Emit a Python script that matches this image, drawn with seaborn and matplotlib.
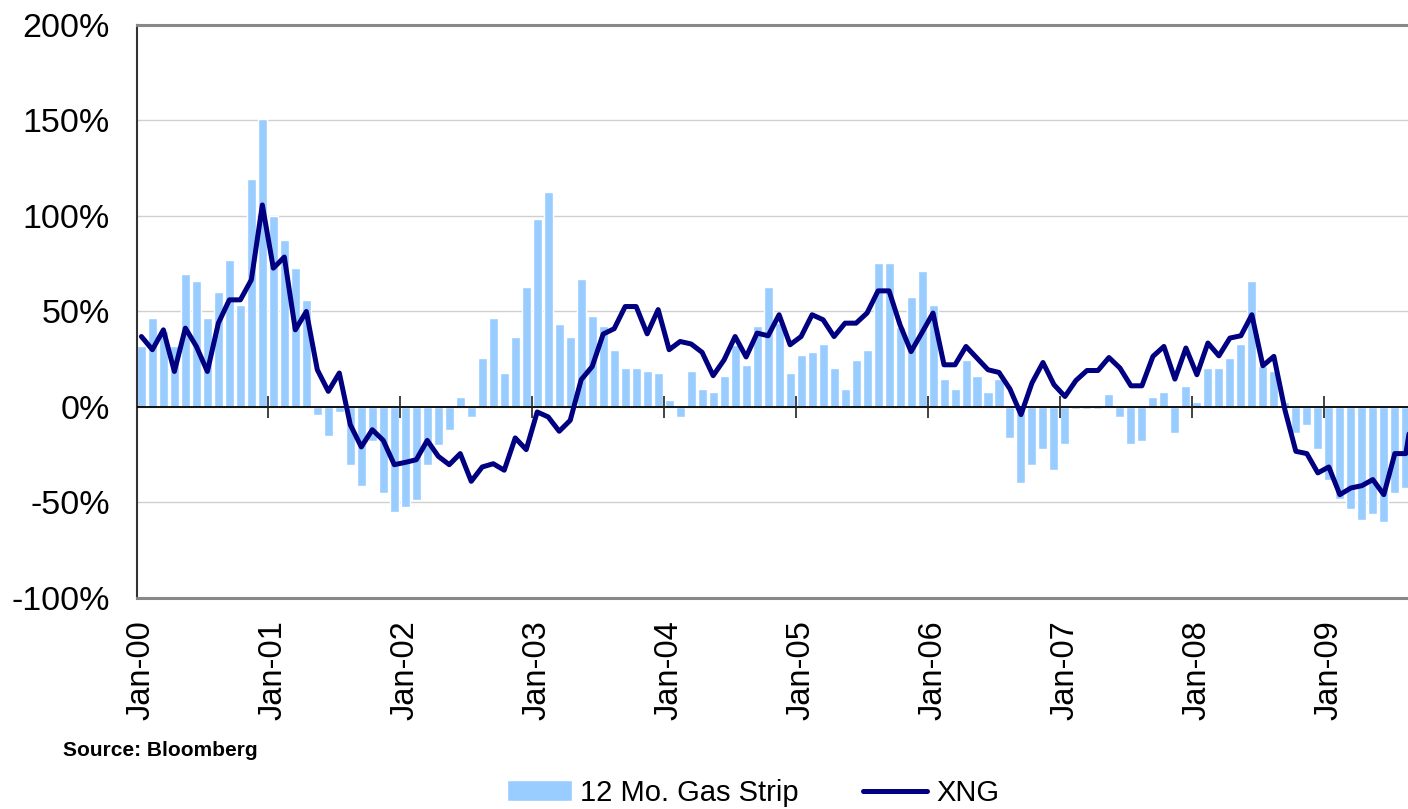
import numpy as np
import pandas as pd
import matplotlib
matplotlib.use("Agg")
import matplotlib.pyplot as plt
import seaborn as sns

# 12 month gas strip, yoy % change (bars), monthly from Jan-00
strip = [31.7, 46.7, 40, 31.7, 69.7, 66, 46.7, 60.3, 77, 53.5, 119.4, 150.8,
         100, 87.5, 72.8, 56, -4.2, -15.3, -2.8, -30.5, -41.5, -18, -45.2, -55,
         -52.5, -48.5, -30.5, -19.7, -12.2, 5.4, -5.4, 25.8, 46.7, 17.9, 36.8, 62.9,
         98.5, 112.6, 43.6, 36.8, 67.1, 47.7, 42.5, 30, 20.6, 20.6, 19, 17.9,
         3.8, -5.4, 19, 9.6, 8, 16.4, 32.6, 22.1, 42.5, 62.9, 44, 17.9,
         27.4, 28.9, 33.1, 20.6, 9.6, 24.7, 30, 75.5, 75.5, 42, 57.7, 71.3,
         53.5, 14.8, 9.6, 24.7, 16.4, 8, 14.8, -16.4, -40, -30.5, -22.1, -33.1,
         -19.5, -1.2, -1.2, -1.2, 7, -5.4, -19.5, -18, 5.4, 8, -13.8, 11.1,
         2.8, 20.6, 20.6, 25.8, 33.1, 66, 21.3, 19, 2.8, -13.8, -9.6, -22.1,
         -38.4, -48.3, -53.5, -59.3, -56.2, -60.4, -45.2, -42.6]

# XNG index, yoy % change (line)
xng = [36.9, 30, 40.4, 18.6, 41.3, 31.7, 18.6, 43.9, 56.1, 56.1, 66.6, 105.8,
       72.7, 78.5, 40.4, 50, 19.5, 8.2, 17.8, -9.3, -20.9, -11.9, -17.5, -30.2,
       -29, -27.6, -17.5, -25.8, -30.2, -24.4, -38.9, -31.4, -29.7, -33.1, -16.2, -22.3,
       -2.6, -5.2, -12.7, -7, 14.3, 21.2, 38.2, 41, 52.6, 52.6, 38.3, 51,
       30, 34.3, 33, 28.6, 16.4, 24.7, 36.9, 26.2, 38.7, 37.3, 48.3, 32.6,
       36.9, 48.3, 45.7, 36.9, 43.9, 43.9, 49.2, 60.8, 60.8, 43, 29, 39,
       49.2, 22.1, 22.1, 31.7, 25.6, 19.5, 18.1, 9.4, -4, 12.6, 23.3, 11.7,
       5.5, 13.9, 19.1, 19.1, 25.9, 20.4, 11.1, 11.1, 26.5, 31.7, 14.6, 30.9,
       16.9, 33.5, 26.8, 36.1, 37.3, 48.3, 21.6, 26.5, -1.4, -23.2, -24.4, -34.5,
       -31.4, -45.9, -42.4, -41.2, -38, -45.9, -24.4, -24.4, 11]

months = pd.date_range("2000-01-01", periods=len(xng), freq="MS")
yticks = [-100, -50, 0, 50, 100, 150, 200]

sns.set_style("white")
plt.rcParams["font.family"] = ["Liberation Sans", "DejaVu Sans"]
plt.rcParams["text.color"] = "black"
plt.rcParams["xtick.color"] = "black"
plt.rcParams["ytick.color"] = "black"

fig = plt.figure(figsize=(14.08, 8.09), dpi=100)
ax = fig.add_axes([137 / 1408, 1 - 598 / 809, 1 - 137 / 1408, (598 - 25) / 809])

bar_x = np.arange(len(strip))
line_x = np.arange(len(xng))

sns.barplot(x=bar_x, y=strip, native_scale=True, width=0.82, color="#99CCFF",
            saturation=1, errorbar=None, label="12 Mo. Gas Strip", ax=ax, zorder=2)
ax.axhline(0, color="black", lw=1.3, zorder=3)
sns.lineplot(x=line_x, y=xng, color="#000080", lw=3.6, label="XNG", ax=ax, zorder=4)

# year tick marks sit on the zero line, between Dec and Jan
year_pos = np.arange(12, len(xng), 12) - 0.45
ax.vlines(year_pos, -5.5, 5.5, color="#222222", lw=1.2, zorder=3)

ax.set_xlim(-0.4, 115.2)
ax.set_ylim(-100, 200)
ax.set_yticks(yticks)
ax.set_yticklabels([f"{v}%" for v in yticks], fontsize=24.5)
ax.tick_params(axis="y", direction="inout", length=15, width=1.2, pad=12)

lab_pos = np.arange(0, len(xng), 12)
ax.set_xticks(lab_pos)
ax.set_xticklabels([months[i].strftime("%b-%y") for i in lab_pos], rotation=90, fontsize=23.5)
ax.tick_params(axis="x", length=0, pad=16)
ax.set_xlabel("")
ax.set_ylabel("")

ax.grid(axis="y", color="#d0d0d0", lw=1)
ax.set_axisbelow(True)
ax.spines["right"].set_visible(False)
ax.spines["top"].set_color("#888888")
ax.spines["top"].set_linewidth(2.2)
ax.spines["bottom"].set_color("#888888")
ax.spines["bottom"].set_linewidth(2.2)
ax.spines["left"].set_color("#333333")
ax.spines["left"].set_linewidth(1.5)

handles, labels = ax.get_legend_handles_labels()
if ax.get_legend() is not None:
    ax.get_legend().remove()
order = [labels.index("12 Mo. Gas Strip"), labels.index("XNG")]
fig.legend([handles[i] for i in order], [labels[i] for i in order],
           loc="center", bbox_to_anchor=(0.535, 0.02), ncol=2,
           frameon=False, fontsize=21, handlelength=2.2, handleheight=0.7,
           handletextpad=0.3, columnspacing=2.2)

fig.text(63 / 1408, 1 - 750 / 809, "Source: Bloomberg", fontsize=15,
         fontweight="bold", va="center", ha="left")

fig.savefig("out.png", dpi=100)
